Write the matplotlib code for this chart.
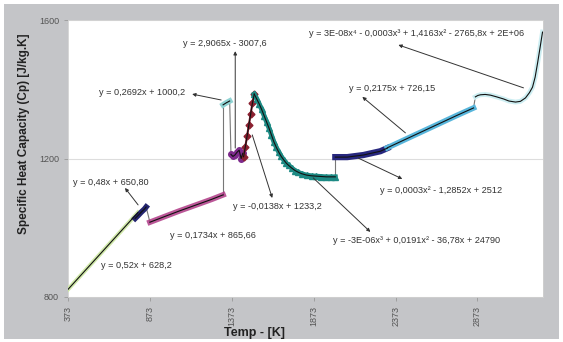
import matplotlib
matplotlib.use("Agg")
import matplotlib.pyplot as plt
from matplotlib.patches import Rectangle

plt.rcParams['font.family'] = ['Liberation Sans', 'DejaVu Sans']

# === DATOS ===
verde_x = [373, 450, 550, 650, 750, 800]
verde_y = [822, 862, 914, 966, 1018, 1044]

azul1_x = [783, 800, 820, 840, 850]
azul1_y = [1027, 1035, 1045, 1054, 1060]

magenta_x = [873, 950, 1050, 1150, 1250, 1320]
magenta_y = [1016, 1030, 1048, 1065, 1082, 1095]

cian_x = [1320, 1340, 1360]
cian_y = [1355, 1361, 1366]

morado_x = [1368, 1380, 1392, 1405, 1418, 1430, 1440]
morado_y = [1212, 1206, 1210, 1218, 1224, 1200, 1215]

rojo_x = [1445, 1455, 1466, 1477, 1488, 1499, 1510]
rojo_y = [1205, 1232, 1264, 1296, 1328, 1360, 1386]

teal_x = [1510, 1525, 1540, 1555, 1570, 1585, 1600, 1615, 1630, 1645, 1660, 1675, 1690,
          1705, 1720, 1740, 1760, 1780, 1800, 1830, 1860, 1890, 1920, 1950, 1980, 2005]
teal_y = [1386, 1372, 1358, 1342, 1324, 1306, 1288, 1268, 1248, 1232, 1218, 1206, 1196,
          1187, 1180, 1172, 1165, 1160, 1156, 1152, 1150, 1149, 1148, 1147, 1147, 1147]

azul2_x = [2005, 2078, 2176, 2280, 2323]
azul2_y = [1204, 1204, 1210, 1221, 1230]

celeste_x = [2323, 2450, 2600, 2750, 2849]
celeste_y = [1231, 1259, 1292, 1325, 1346]

negro_x = [2860, 2875, 2891, 2920, 2952, 2990, 3032, 3065, 3105, 3135, 3166, 3190, 3209, 3225, 3240, 3255, 3270]
negro_y = [1378, 1382, 1384, 1385, 1383, 1378, 1372, 1366, 1363, 1365, 1375, 1390, 1406, 1435, 1476, 1520, 1565]

x_ticks = [373, 873, 1373, 1873, 2373, 2873]
y_ticks = [800, 1200, 1600]

# ecuaciones: (texto, posicion texto, cola flecha, punta flecha)
ecuaciones = [
    ("y = 2,9065x - 3007,6", (1333, 1531), (1394, 1230), (1394, 1510)),
    ("y = 0,2692x + 1000,2", (825, 1392), (1308, 1369), (1131, 1386)),
    ("y = 3E-08x⁴ - 0,0003x³ + 1,4163x² - 2765,8x + 2E+06", (2500, 1560), (3154, 1404), (2390, 1528)),
    ("y = 0,2175x + 726,15", (2353, 1401), (2433, 1274), (2170, 1378)),
    ("y = 0,48x + 650,80", (636, 1132), (801, 1066), (721, 1115)),
    ("y = 0,1734x + 865,66", (1259, 979), None, None),
    ("y = 0,52x + 628,2", (789, 892), None, None),
    ("y = -0,0138x + 1233,2", (1650, 1060), (1498, 1268), (1620, 1086)),
    ("y = 0,0003x² - 1,2852x + 2512", (2653, 1109), (2146, 1201), (2414, 1141)),
    ("y = -3E-06x³ + 0,0191x² - 36,78x + 24790", (2500, 962), (1870, 1144), (2219, 988)),
]

fig = plt.figure(figsize=(5.63, 3.42), dpi=100, facecolor='white')
fig.patches.append(Rectangle((4 / 563, 3 / 342), 555 / 563, 335 / 342, transform=fig.transFigure,
                             facecolor='#c4c5c8', edgecolor='none', zorder=-10))
ax = fig.add_axes([68 / 563, 1 - 297 / 342, 475 / 563, 277 / 342])
ax.set_facecolor('white')

# conectores entre series
series = [(verde_x, verde_y), (azul1_x, azul1_y), (magenta_x, magenta_y), (cian_x, cian_y),
          (morado_x, morado_y), (rojo_x, rojo_y), (teal_x, teal_y), (azul2_x, azul2_y),
          (celeste_x, celeste_y), (negro_x, negro_y)]
for (xa, ya), (xb, yb) in zip(series[1:-1], series[2:]):
    ax.plot([xa[-1], xb[0]], [ya[-1], yb[0]], color='#777777', lw=0.8, zorder=2)

ax.plot(verde_x, verde_y, color='#cfe8a8', lw=3, zorder=3)
ax.plot(azul1_x, azul1_y, color='#23246e', lw=4, zorder=3)
ax.plot(magenta_x, magenta_y, color='#b03a86', lw=4, alpha=0.85, zorder=3)
ax.plot(cian_x, cian_y, color='#8fd3d3', lw=4, zorder=3)
ax.plot(morado_x, morado_y, color='#7d2a8c', lw=2.5, marker='o', ms=4, zorder=3)
ax.plot(rojo_x, rojo_y, color='#8a2030', lw=1.5, marker='D', ms=3.5, zorder=3)
ax.plot(teal_x, teal_y, color='#1d8a84', lw=3.5, marker='^', ms=4, zorder=3)
ax.plot(azul2_x, azul2_y, color='#27277e', lw=4.5, zorder=3)
ax.plot(celeste_x, celeste_y, color='#58b6dc', lw=4, zorder=3)
ax.plot(negro_x, negro_y, color='#cdeef2', lw=3.5, zorder=3)

# lineas de tendencia
for xs, ys in series:
    ax.plot(xs, ys, color='#111111', lw=0.8, zorder=4)

for texto, pos, cola, punta in ecuaciones:
    ax.text(pos[0], pos[1], texto, fontsize=6.6, color='#333333', ha='center', va='center', zorder=5)
    if cola is not None:
        ax.annotate('', xy=punta, xytext=cola,
                    arrowprops=dict(arrowstyle='-|>', color='#333333', lw=0.7, mutation_scale=5,
                                    shrinkA=0, shrinkB=0), zorder=5)

ax.set_xlim(373, 3273)
ax.set_ylim(800, 1600)
ax.set_xticks(x_ticks)
ax.set_xticklabels([str(t) for t in x_ticks], rotation=90)
ax.set_yticks(y_ticks)
ax.tick_params(labelsize=6.5, labelcolor='#555555', color='#999999', length=3, width=0.6)
ax.grid(axis='y', color='#dddddd', lw=0.8)
ax.set_axisbelow(True)
for s in ax.spines.values():
    s.set_color('#d0d0d0')
    s.set_linewidth(0.6)

fig.text(255 / 563, 1 - 333 / 342, 'Temp - [K]', ha='center', va='center', fontsize=9,
         fontweight='bold', color='#222222')
fig.text(24 / 563, 1 - 134 / 342, 'Specific Heat Capacity (Cp) [J/kg.K]', ha='center', va='center',
         rotation=90, fontsize=8.5, fontweight='bold', color='#222222')

fig.savefig('out.png', dpi=100, facecolor=fig.get_facecolor())
